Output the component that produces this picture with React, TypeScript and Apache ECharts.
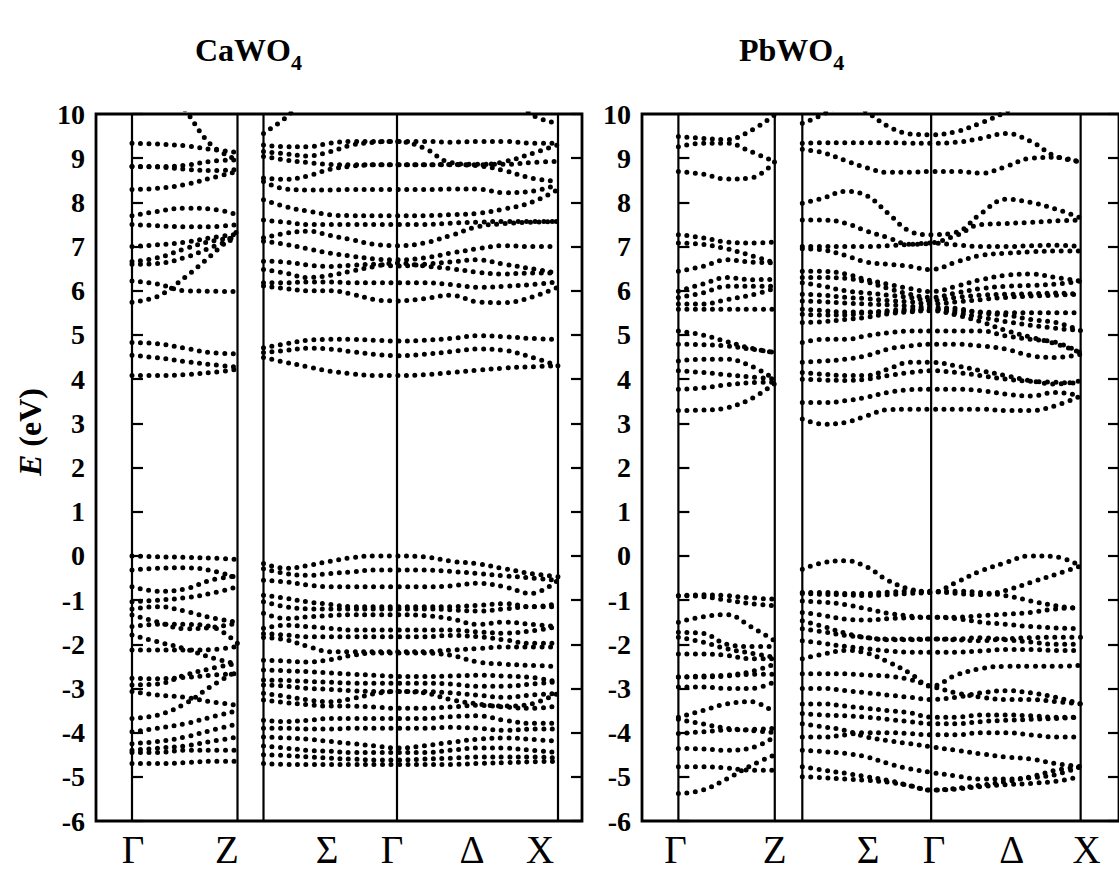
import React, { useEffect, useRef } from "react";
import * as echarts from "echarts";

// ---------- axes / labels ----------
const E_MIN = -6;
const E_MAX = 10;
const E_STEP = 1;
const kLabels = ["Γ", "Z", "Σ", "Γ", "Δ", "X"];
const titles = ["CaWO{s|4}", "PbWO{s|4}"];
const yName = "{it|E} (eV)";

// k-path positions: Γ, Z, (Z'), Γ, X
const caKPoints = [0, 1.055, 1.315, 2.65, 4.26];
const caKRange = [-0.36, 4.5];
const caLabelK = [0.01, 0.95, 1.95, 2.6, 3.4, 4.08];
const pbKPoints = [0, 0.98, 1.26, 2.57, 4.09];
const pbKRange = [-0.37, 4.48];
const pbLabelK = [-0.03, 0.98, 1.93, 2.6, 3.39, 4.15];

// ---------- CaWO4 bands: Γ → Z (5 k samples) ----------
const caGZ: number[][] = [
  [9.34, 9.32, 9.28, 9.2, 9.13],
  [8.81, 8.81, 8.84, 8.93, 8.96],
  [8.81, 8.8, 8.75, 8.72, 8.74],
  [8.29, 8.32, 8.4, 8.55, 8.7],
  [7.7, 7.8, 7.87, 7.85, 7.72],
  [7.5, 7.47, 7.45, 7.45, 7.5],
  [7.0, 7.04, 7.1, 7.2, 7.28],
  [6.66, 6.75, 6.95, 7.12, 7.2],
  [6.6, 6.62, 6.75, 6.98, 7.2],
  [6.22, 6.15, 6.0, 5.99, 5.98],
  [5.74, 5.88, 6.3, 6.8, 7.35],
  [11.6, 10.8, 10.1, 9.3, 8.96],
  [4.83, 4.8, 4.7, 4.6, 4.57],
  [4.54, 4.48, 4.4, 4.33, 4.27],
  [4.08, 4.08, 4.1, 4.15, 4.22],
  [0.0, -0.02, -0.03, -0.05, -0.08],
  [-0.32, -0.28, -0.27, -0.33, -0.5],
  [-0.7, -0.8, -0.75, -0.55, -0.45],
  [-1.04, -1.0, -0.95, -0.85, -0.7],
  [-1.2, -1.15, -1.25, -1.4, -1.5],
  [-1.34, -1.5, -1.65, -1.62, -1.52],
  [-1.6, -1.55, -1.55, -1.6, -1.98],
  [-1.79, -1.95, -2.1, -2.3, -2.45],
  [-2.13, -2.13, -2.13, -2.12, -2.05],
  [-2.77, -2.78, -2.75, -2.7, -2.66],
  [-2.92, -2.9, -2.7, -2.55, -2.43],
  [-3.07, -3.15, -3.2, -3.3, -3.38],
  [-3.68, -3.6, -3.35, -2.95, -2.6],
  [-3.98, -3.9, -3.8, -3.65, -3.5],
  [-4.25, -4.2, -4.1, -3.95, -3.8],
  [-4.4, -4.35, -4.3, -4.2, -4.1],
  [-4.45, -4.45, -4.4, -4.4, -4.4],
  [-4.7, -4.7, -4.68, -4.65, -4.65],
];

// ---------- CaWO4 bands: Z' → Γ (7) → X (6 more) ----------
const caZpGX: number[][] = [
  [9.56, 9.92, 10.4, 10.9, 11.3, 11.6, 11.6, 11.6, 11.5, 11.2, 10.7, 10.0, 9.79],
  [9.3, 9.26, 9.26, 9.34, 9.38, 9.38, 9.38, 9.38, 9.36, 9.38, 9.38, 9.34, 9.34],
  [9.15, 9.1, 9.05, 9.15, 9.3, 9.36, 9.38, 9.23, 8.9, 8.86, 8.86, 8.9, 8.93],
  [9.04, 8.96, 8.9, 8.86, 8.85, 8.85, 8.85, 8.85, 8.85, 8.83, 8.72, 8.55, 8.47],
  [8.55, 8.52, 8.6, 8.75, 8.82, 8.85, 8.85, 8.85, 8.86, 8.85, 8.92, 9.1, 9.3],
  [8.47, 8.3, 8.28, 8.28, 8.29, 8.29, 8.29, 8.29, 8.3, 8.3, 8.22, 8.25, 8.4],
  [8.06, 7.9, 7.8, 7.72, 7.7, 7.7, 7.7, 7.7, 7.72, 7.75, 7.85, 8.0, 8.29],
  [7.6, 7.55, 7.5, 7.5, 7.5, 7.5, 7.5, 7.5, 7.53, 7.55, 7.57, 7.57, 7.57],
  [7.2, 7.3, 7.35, 7.25, 7.15, 7.05, 7.02, 7.08, 7.25, 7.45, 7.52, 7.55, 7.57],
  [7.12, 7.05, 6.95, 6.85, 6.78, 6.72, 6.7, 6.74, 6.85, 6.95, 7.02, 7.0, 7.0],
  [6.67, 6.65, 6.58, 6.55, 6.58, 6.6, 6.56, 6.6, 6.65, 6.7, 6.6, 6.5, 6.4],
  [6.48, 6.4, 6.3, 6.35, 6.45, 6.55, 6.63, 6.56, 6.5, 6.42, 6.38, 6.4, 6.4],
  [6.18, 6.18, 6.2, 6.2, 6.18, 6.18, 6.18, 6.18, 6.14, 6.08, 6.1, 6.14, 6.2],
  [6.11, 6.05, 6.0, 6.0, 5.92, 5.8, 5.77, 5.82, 5.9, 5.75, 5.73, 5.85, 6.08],
  [4.71, 4.8, 4.88, 4.9, 4.9, 4.88, 4.86, 4.88, 4.92, 4.98, 4.96, 4.92, 4.9],
  [4.6, 4.65, 4.7, 4.68, 4.62, 4.56, 4.53, 4.56, 4.62, 4.68, 4.65, 4.5, 4.3],
  [4.49, 4.38, 4.28, 4.18, 4.12, 4.08, 4.08, 4.1, 4.15, 4.2, 4.25, 4.28, 4.3],
  [-0.17, -0.28, -0.22, -0.12, -0.04, 0.0, 0.0, -0.02, -0.12, -0.18, -0.29, -0.4, -0.47],
  [-0.29, -0.4, -0.44, -0.4, -0.36, -0.32, -0.32, -0.32, -0.35, -0.4, -0.45, -0.5, -0.55],
  [-0.55, -0.59, -0.66, -0.7, -0.7, -0.7, -0.7, -0.7, -0.68, -0.62, -0.7, -0.85, -0.55],
  [-0.89, -0.96, -1.04, -1.1, -1.15, -1.15, -1.15, -1.15, -1.15, -1.12, -1.08, -1.15, -1.08],
  [-1.04, -1.15, -1.2, -1.2, -1.2, -1.2, -1.2, -1.2, -1.22, -1.25, -1.2, -1.15, -1.15],
  [-1.3, -1.42, -1.38, -1.35, -1.33, -1.33, -1.33, -1.35, -1.42, -1.55, -1.5, -1.55, -1.6],
  [-1.64, -1.57, -1.6, -1.64, -1.68, -1.68, -1.68, -1.68, -1.68, -1.72, -1.75, -1.7, -1.6],
  [-1.76, -1.79, -1.83, -1.83, -1.83, -1.83, -1.83, -1.83, -1.8, -1.83, -1.9, -1.98, -1.98],
  [-1.85, -1.9, -2.05, -2.17, -2.17, -2.17, -2.17, -2.17, -2.13, -2.1, -2.06, -2.06, -2.06],
  [-2.36, -2.38, -2.4, -2.35, -2.25, -2.2, -2.2, -2.2, -2.25, -2.4, -2.45, -2.48, -2.5],
  [-2.58, -2.6, -2.62, -2.65, -2.68, -2.7, -2.73, -2.73, -2.72, -2.7, -2.72, -2.75, -2.85],
  [-2.81, -2.82, -2.84, -2.86, -2.88, -2.88, -2.88, -2.88, -2.9, -2.95, -2.95, -2.9, -2.85],
  [-2.92, -2.95, -3.0, -3.02, -3.05, -3.07, -3.07, -3.07, -3.1, -3.15, -3.2, -3.15, -3.11],
  [-3.11, -3.18, -3.26, -3.3, -3.23, -3.12, -3.07, -3.1, -3.25, -3.35, -3.4, -3.35, -3.11],
  [-3.26, -3.32, -3.37, -3.4, -3.4, -3.42, -3.45, -3.45, -3.42, -3.38, -3.42, -3.45, -3.4],
  [-3.72, -3.75, -3.72, -3.68, -3.68, -3.68, -3.68, -3.68, -3.64, -3.62, -3.72, -3.79, -3.79],
  [-3.9, -3.9, -3.92, -3.92, -3.9, -3.9, -3.9, -3.9, -3.88, -3.9, -3.95, -3.92, -3.92],
  [-4.1, -4.12, -4.15, -4.2, -4.25, -4.3, -4.35, -4.3, -4.22, -4.15, -4.12, -4.15, -4.2],
  [-4.3, -4.35, -4.4, -4.42, -4.45, -4.45, -4.45, -4.45, -4.4, -4.35, -4.35, -4.4, -4.45],
  [-4.5, -4.52, -4.55, -4.58, -4.6, -4.62, -4.62, -4.6, -4.58, -4.55, -4.55, -4.55, -4.58],
  [-4.7, -4.72, -4.72, -4.72, -4.72, -4.72, -4.72, -4.72, -4.72, -4.7, -4.68, -4.66, -4.65],
];

// ---------- PbWO4 bands: Γ → Z ----------
const pbGZ: number[][] = [
  [9.49, 9.45, 9.42, 9.62, 9.98],
  [9.26, 9.34, 9.34, 9.15, 8.92],
  [8.7, 8.64, 8.53, 8.55, 8.92],
  [7.27, 7.2, 7.1, 7.08, 7.1],
  [7.08, 7.05, 6.95, 6.8, 6.63],
  [6.44, 6.55, 6.7, 6.65, 6.63],
  [5.99, 6.15, 6.3, 6.25, 6.26],
  [5.85, 5.95, 6.1, 6.1, 6.1],
  [5.7, 5.7, 5.8, 5.9, 6.05],
  [5.58, 5.58, 5.58, 5.58, 5.58],
  [5.09, 5.0, 4.85, 4.7, 4.6],
  [4.79, 4.78, 4.75, 4.68, 4.6],
  [4.41, 4.45, 4.45, 4.3, 4.0],
  [4.19, 4.15, 4.1, 4.05, 4.0],
  [3.77, 3.8, 3.87, 3.92, 3.93],
  [3.29, 3.3, 3.35, 3.55, 3.9],
  [-0.9, -0.88, -0.9, -0.95, -0.98],
  [-0.9, -0.92, -1.0, -1.08, -1.13],
  [-1.5, -1.38, -1.33, -1.6, -1.92],
  [-1.73, -1.75, -2.0, -2.05, -2.05],
  [-1.84, -1.95, -2.1, -2.2, -2.3],
  [-2.22, -2.22, -2.25, -2.33, -2.33],
  [-2.74, -2.72, -2.7, -2.62, -2.45],
  [-2.74, -2.74, -2.72, -2.68, -2.68],
  [-2.97, -2.97, -3.0, -3.0, -2.85],
  [-3.65, -3.5, -3.35, -3.3, -3.55],
  [-3.7, -3.8, -3.9, -3.95, -4.0],
  [-4.02, -3.98, -3.94, -3.93, -3.9],
  [-4.36, -4.37, -4.4, -4.35, -4.1],
  [-4.77, -4.77, -4.8, -4.85, -4.85],
  [-5.38, -5.3, -5.05, -4.75, -4.5],
];

// ---------- PbWO4 bands: Z' → Γ → X ----------
const pbZpGX: number[][] = [
  [9.79, 10.0, 10.3, 10.6, 10.8, 10.9, 11.0, 11.0, 11.0, 11.0, 11.0, 11.0, 11.0],
  [10.6, 10.5, 10.35, 10.05, 9.72, 9.55, 9.53, 9.6, 9.8, 10.05, 10.4, 10.6, 10.7],
  [9.34, 9.35, 9.35, 9.35, 9.35, 9.34, 9.34, 9.36, 9.45, 9.56, 9.38, 9.04, 8.93],
  [9.2, 9.12, 8.95, 8.78, 8.68, 8.68, 8.7, 8.7, 8.66, 8.81, 9.0, 9.02, 8.9],
  [7.98, 8.1, 8.25, 8.15, 7.75, 7.35, 7.27, 7.32, 7.75, 8.07, 8.0, 7.85, 7.65],
  [7.6, 7.6, 7.53, 7.35, 7.2, 7.05, 7.08, 7.25, 7.5, 7.52, 7.55, 7.58, 7.6],
  [7.0, 7.0, 7.0, 7.0, 7.02, 7.05, 7.08, 7.04, 7.0, 7.0, 7.02, 7.03, 7.0],
  [6.95, 6.92, 6.8, 6.65, 6.6, 6.55, 6.48, 6.65, 6.8, 6.85, 6.88, 6.9, 6.9],
  [6.44, 6.44, 6.38, 6.25, 6.15, 6.05, 5.98, 6.1, 6.25, 6.35, 6.38, 6.3, 6.22],
  [6.3, 6.3, 6.28, 6.2, 6.05, 5.92, 5.85, 5.95, 6.05, 6.1, 6.12, 6.15, 6.22],
  [6.18, 6.1, 6.0, 5.95, 5.9, 5.85, 5.78, 5.85, 5.9, 5.92, 5.93, 5.95, 5.92],
  [5.92, 5.9, 5.85, 5.82, 5.78, 5.75, 5.7, 5.75, 5.8, 5.85, 5.88, 5.9, 5.92],
  [5.77, 5.75, 5.72, 5.7, 5.68, 5.65, 5.62, 5.6, 5.5, 5.45, 5.35, 5.28, 5.1],
  [5.58, 5.55, 5.52, 5.52, 5.55, 5.58, 5.58, 5.5, 5.4, 5.3, 5.22, 5.15, 5.1],
  [5.47, 5.45, 5.45, 5.5, 5.52, 5.55, 5.58, 5.55, 5.52, 5.5, 5.5, 5.5, 5.5],
  [5.28, 5.3, 5.35, 5.4, 5.48, 5.52, 5.55, 5.45, 5.3, 5.1, 4.95, 4.8, 4.6],
  [4.83, 4.9, 4.9, 4.98, 5.05, 5.09, 5.09, 5.09, 5.09, 4.98, 4.9, 4.83, 4.6],
  [4.38, 4.41, 4.45, 4.53, 4.68, 4.75, 4.79, 4.79, 4.75, 4.68, 4.53, 4.49, 4.56],
  [4.15, 4.11, 4.08, 4.08, 4.23, 4.38, 4.38, 4.3, 4.19, 4.08, 3.96, 3.89, 3.96],
  [4.0, 3.98, 3.97, 4.0, 4.08, 4.15, 4.19, 4.15, 4.08, 4.0, 3.95, 3.93, 3.9],
  [3.47, 3.47, 3.51, 3.59, 3.7, 3.76, 3.77, 3.77, 3.74, 3.66, 3.62, 3.7, 3.62],
  [3.1, 2.98, 3.02, 3.17, 3.31, 3.32, 3.32, 3.32, 3.32, 3.29, 3.29, 3.4, 3.62],
  [-0.3, -0.15, -0.11, -0.25, -0.56, -0.75, -0.83, -0.6, -0.34, -0.15, 0.0, -0.02, -0.23],
  [-0.83, -0.83, -0.85, -0.85, -0.82, -0.8, -0.8, -0.85, -0.88, -0.78, -0.6, -0.42, -0.23],
  [-0.85, -0.87, -0.88, -0.9, -0.88, -0.85, -0.83, -0.8, -0.83, -0.9, -1.02, -1.13, -1.2],
  [-1.02, -1.05, -1.1, -1.2, -1.3, -1.36, -1.39, -1.39, -1.35, -1.32, -1.28, -1.2, -1.17],
  [-1.28, -1.35, -1.43, -1.45, -1.42, -1.4, -1.39, -1.42, -1.5, -1.55, -1.6, -1.63, -1.65],
  [-1.47, -1.6, -1.75, -1.85, -1.88, -1.88, -1.88, -1.9, -1.92, -1.88, -1.85, -1.84, -1.84],
  [-1.65, -1.72, -1.8, -1.85, -1.9, -1.9, -1.88, -1.88, -1.85, -1.9, -1.95, -2.0, -2.0],
  [-1.92, -1.98, -2.05, -2.1, -2.15, -2.18, -2.18, -2.18, -2.15, -2.12, -2.12, -2.14, -2.14],
  [-2.33, -2.22, -2.14, -2.2, -2.4, -2.65, -2.95, -2.7, -2.55, -2.5, -2.5, -2.5, -2.48],
  [-2.67, -2.67, -2.67, -2.7, -2.72, -2.8, -2.95, -3.1, -3.2, -3.25, -3.25, -3.3, -3.35],
  [-3.0, -3.0, -3.05, -3.1, -3.15, -3.2, -3.25, -3.2, -3.1, -3.05, -3.1, -3.2, -3.35],
  [-3.35, -3.35, -3.4, -3.45, -3.5, -3.55, -3.65, -3.65, -3.6, -3.6, -3.62, -3.65, -3.65],
  [-3.57, -3.6, -3.62, -3.65, -3.7, -3.75, -3.8, -3.8, -3.75, -3.72, -3.7, -3.68, -3.65],
  [-3.8, -3.87, -3.95, -4.1, -4.18, -4.25, -4.32, -4.4, -4.48, -4.55, -4.6, -4.7, -4.77],
  [-4.1, -4.1, -4.05, -4.0, -4.0, -4.02, -4.05, -4.05, -4.0, -4.0, -4.05, -4.1, -4.1],
  [-4.4, -4.43, -4.47, -4.55, -4.7, -4.82, -4.9, -4.98, -5.05, -5.05, -5.02, -4.95, -4.77],
  [-4.77, -4.85, -4.92, -5.0, -5.08, -5.2, -5.3, -5.26, -5.19, -5.11, -5.0, -4.85, -4.77],
  [-5.0, -5.02, -5.05, -5.08, -5.12, -5.2, -5.3, -5.28, -5.22, -5.18, -5.15, -5.1, -5.0],
];

// ---------- chart ----------
const FONT = "'Liberation Serif', 'Times New Roman', serif";

function linspace(a: number, b: number, n: number) {
  const out: number[] = [];
  for (let i = 0; i < n; i++) out.push(a + ((b - a) * i) / (n - 1));
  return out;
}

function bandLine(ks: number[], values: number[], grid: number) {
  return {
    type: "line",
    xAxisIndex: grid,
    yAxisIndex: grid * 2,
    data: values.map((e, i) => [ks[i], e]),
    smooth: 0.4,
    symbol: "none",
    silent: true,
    clip: true,
    z: 3,
    lineStyle: { color: "#000", width: 5, type: [0, 8.5], cap: "round" },
  };
}

function panelSeries(kPoints: number[], gz: number[][], zgx: number[][], grid: number) {
  const [g, z, zp, g2, x] = kPoints;
  const kA = linspace(g, z, 5);
  const kBC = [...linspace(zp, g2, 7), ...linspace(g2, x, 7).slice(1)];
  const out: any[] = [];
  gz.forEach((b) => out.push(bandLine(kA, b, grid)));
  zgx.forEach((b) => out.push(bandLine(kBC, b, grid)));
  kPoints.forEach((k) =>
    out.push({
      type: "line",
      xAxisIndex: grid,
      yAxisIndex: grid * 2,
      data: [
        [k, E_MIN],
        [k, E_MAX],
      ],
      symbol: "none",
      silent: true,
      z: 2,
      lineStyle: { color: "#000", width: 2.2, type: "solid" },
    })
  );
  return out;
}

function xAxisFor(range: number[], labelK: number[], grid: number) {
  return {
    type: "value",
    gridIndex: grid,
    min: range[0],
    max: range[1],
    axisLine: { show: false },
    axisTick: { show: false },
    splitLine: { show: false },
    axisLabel: {
      customValues: labelK,
      hideOverlap: false,
      margin: 9,
      color: "#000",
      fontFamily: FONT,
      fontSize: 39,
      formatter: (v: number) => {
        let best = 0;
        labelK.forEach((k, i) => {
          if (Math.abs(k - v) < Math.abs(labelK[best] - v)) best = i;
        });
        return kLabels[best];
      },
    },
  };
}

function yAxesFor(grid: number) {
  const base = {
    type: "value",
    gridIndex: grid,
    min: E_MIN,
    max: E_MAX,
    interval: E_STEP,
    splitLine: { show: false },
    axisLine: { show: false },
    axisTick: { show: true, inside: true, length: 11, lineStyle: { color: "#000", width: 2.2 } },
  };
  return [
    {
      ...base,
      position: "left",
      axisLabel: {
        color: "#000",
        fontFamily: FONT,
        fontWeight: "bold",
        fontSize: 28,
        margin: 11,
      },
    },
    { ...base, position: "right", axisLabel: { show: false } },
  ];
}

function titleFor(text: string, left: number) {
  return {
    text,
    left,
    top: 22,
    textStyle: {
      color: "#000",
      fontFamily: FONT,
      fontWeight: "bold",
      fontSize: 32,
      lineHeight: 46,
      rich: {
        s: { fontFamily: FONT, fontWeight: "bold", fontSize: 22, color: "#000", padding: [24, 0, 0, 0] },
      },
    },
  };
}

function buildOption() {
  return {
    animation: false,
    backgroundColor: "#fff",
    title: [titleFor(titles[0], 190), titleFor(titles[1], 734)],
    graphic: [
      {
        type: "text",
        x: 30,
        y: 432,
        rotation: Math.PI / 2,
        style: {
          text: yName,
          align: "center",
          verticalAlign: "middle",
          fill: "#000",
          font: `bold 32px ${FONT}`,
          rich: {
            it: { fontFamily: FONT, fontWeight: "bold", fontStyle: "italic", fontSize: 32, fill: "#000" },
          },
        },
      },
    ],
    grid: [
      { left: 96, top: 114, width: 486, height: 707, show: true, borderColor: "#000", borderWidth: 2.8, backgroundColor: "transparent" },
      { left: 642, top: 114, width: 485, height: 707, show: true, borderColor: "#000", borderWidth: 2.8, backgroundColor: "transparent" },
    ],
    xAxis: [xAxisFor(caKRange, caLabelK, 0), xAxisFor(pbKRange, pbLabelK, 1)],
    yAxis: [...yAxesFor(0), ...yAxesFor(1)],
    series: [
      ...panelSeries(caKPoints, caGZ, caZpGX, 0),
      ...panelSeries(pbKPoints, pbGZ, pbZpGX, 1),
    ],
  };
}

export default function App() {
  const ref = useRef<HTMLDivElement>(null);
  useEffect(() => {
    if (!ref.current) return;
    const chart = echarts.init(ref.current, null, { renderer: "svg" });
    chart.setOption(buildOption() as any);
    return () => chart.dispose();
  }, []);
  return (
    <div
      ref={ref}
      style={{ position: "absolute", left: 0, top: 0, width: 1119, height: 876, background: "#fff", overflow: "hidden" }}
    />
  );
}
